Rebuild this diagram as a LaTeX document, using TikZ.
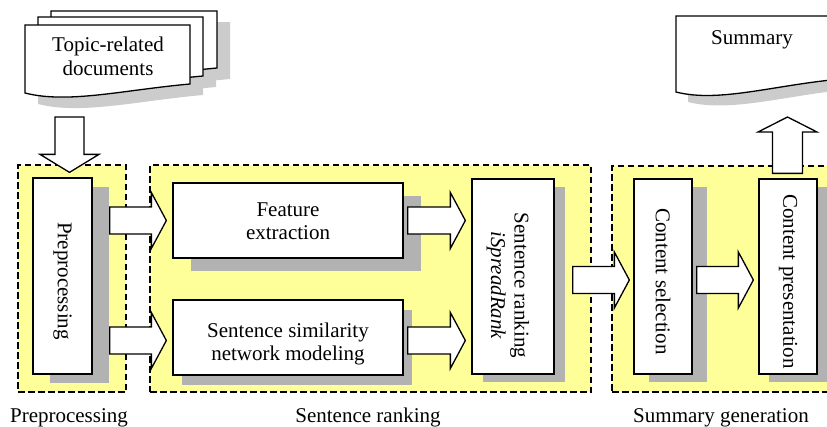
\documentclass[tikz,border=0pt]{standalone}
\usepackage{fontspec}
\setmainfont{Liberation Serif}
\usetikzlibrary{calc,shadows}

\definecolor{groupfill}{HTML}{FFFF99}
\definecolor{shadowgray}{HTML}{B2B2B2}
\definecolor{docgray}{HTML}{CCCCCC}

\tikzset{
  stagegroup/.style={draw=black, line width=2pt, dash pattern=on 6.5pt off 3.5pt,
    fill=groupfill, inner sep=0pt},
  stagebox/.style={draw=black, line width=1.3pt, fill=white, inner sep=0pt},
  boxshadow/.style 2 args={general shadow={fill=shadowgray, draw=none,
    shadow xshift=#1pt, shadow yshift=-#2pt}},
  lbl/.style={font=\fontsize{21}{23.5}\selectfont, align=center, inner sep=0pt},
  vlbl/.style={lbl, rotate=-90},
  blockarrow/.style={draw=black, line width=1.3pt, fill=white, line join=miter},
  % block arrow pointing right, at the height of its start point
  harrow/.style={blockarrow, to path={let \p1=(\tikztostart), \p2=(\tikztotarget) in
    (\x1,\y1+13.5pt) -- (\x2-15pt,\y1+13.5pt) -- (\x2-15pt,\y1+28pt) -- (\x2,\y1)
    -- (\x2-15pt,\y1-28pt) -- (\x2-15pt,\y1-13.5pt) -- (\x1,\y1-13.5pt) -- cycle}},
  % block arrow pointing down
  darrow/.style={blockarrow, to path={let \p1=(\tikztostart), \p2=(\tikztotarget) in
    (\x1-14.5pt,\y1) -- (\x1-14.5pt,\y2+18pt) -- (\x1-29.5pt,\y2+18pt) -- (\x1,\y2)
    -- (\x1+29.5pt,\y2+18pt) -- (\x1+14.5pt,\y2+18pt) -- (\x1+14.5pt,\y1) -- cycle}},
  % block arrow pointing up
  uarrow/.style={blockarrow, to path={let \p1=(\tikztostart), \p2=(\tikztotarget) in
    (\x1-15pt,\y1) -- (\x1-15pt,\y2-15pt) -- (\x1-29.5pt,\y2-15pt) -- (\x1,\y2)
    -- (\x1+29.5pt,\y2-15pt) -- (\x1+15pt,\y2-15pt) -- (\x1+15pt,\y1) -- cycle}},
  docline/.style={draw=black, line width=1.3pt, fill=white},
  docshade/.style={fill=docgray},
}

% document sheet with a wavy lower edge:
% #1,#2 top-left corner, #3 width, #4 left height, #5 right height, #6 style
\newcommand\docsheet[6]{%
  \path[#6] (#1,#2) -- ({#1+#3},#2) -- ({#1+#3},{#2+#5})
    .. controls ({#1+#3-67},{#2+#5+6}) and ({#1+43},{#2+#4+11}) .. (#1,{#2+#4}) -- cycle;}

\begin{document}
\begin{tikzpicture}[x=1pt,y=-1pt]
\useasboundingbox (0,0) rectangle (827,426);
\clip (0,0) rectangle (827,426);

% stage groups
\node[stagegroup, minimum width=108pt, minimum height=227pt] (g1) at (72,278.5) {};
\node[stagegroup, minimum width=441pt, minimum height=227pt] (g2) at (370.5,278.5) {};
\node[stagegroup, minimum width=218pt, minimum height=226pt] (g3) at (721,279) {};

\node[lbl, anchor=base] (g1lbl) at ($(g1.south)+(-3,29)$) {Preprocessing};
\node[lbl, anchor=base] (g2lbl) at ($(g2.south)+(-2.5,29)$) {Sentence ranking};
\node[lbl, anchor=base] (g3lbl) at ($(g3.south)+(0,29)$) {Summary generation};

% processing boxes
\node[stagebox, boxshadow={17}{9}, minimum width=59pt, minimum height=196pt] (pre) at (62.5,276) {};
\node[stagebox, boxshadow={18}{13}, minimum width=230pt, minimum height=75pt] (feat) at (288,220.5) {};
\node[stagebox, boxshadow={9}{10}, minimum width=230pt, minimum height=75pt] (sim) at (288,337.5) {};
\node[stagebox, boxshadow={11}{8}, minimum width=82pt, minimum height=195pt] (rank) at (513,276.5) {};
\node[stagebox, boxshadow={15}{8}, minimum width=58pt, minimum height=195pt] (sel) at (663,276.5) {};
\node[stagebox, boxshadow={10}{8}, minimum width=58pt, minimum height=195pt] (pres) at (788,276.5) {};

\node[vlbl] (preT) at ($(pre)+(0,5)$) {Preprocessing};
\node[lbl] (featT) at (288,221) {Feature\\extraction};
\node[lbl] (simT) at (288,344) {Sentence similarity\\network modeling};
\node[vlbl] (rankT) at ($(rank)+(-5,9)$) {Sentence ranking\\\textit{iSpreadRank}};
\node[vlbl] (selT) at ($(sel)+(0,5)$) {Content selection};
\node[vlbl] (presT) at ($(pres)+(0,5)$) {Content presentation};

% input documents: shadows first, then the stacked sheets
\docsheet{64}{22}{166}{64}{57}{docshade}
\docsheet{51}{28}{165}{66}{59}{docshade}
\docsheet{38}{36}{165}{68}{59}{docshade}
\docsheet{51}{11}{166}{64}{57}{docline}
\docsheet{38}{17}{165}{66}{59}{docline}
\docsheet{25}{25}{165}{68}{59}{docline}
\node[lbl] (docsT) at (108,56.5) {Topic-related\\documents};

% output summary
\docsheet{688}{26}{165}{76}{63}{docshade}
\docsheet{676}{16}{165}{76}{63}{docline}
\node[lbl] (sumT) at (752,40.3) {Summary};

\coordinate (docfoot) at (69.5,117);
\coordinate (sumfoot) at (787.5,117);

% flow arrows
\path[darrow] (docfoot) to ($(docfoot |- pre.north)+(0,-5)$);
\path[harrow] ($(pre.east |- feat)+(17,0)$) to ($(feat.west)+(-6,0)$);
\path[harrow] ($(pre.east |- sim)+(17,3)$) to ($(sim.west)+(-6,3)$);
\path[harrow] ($(feat.east)+(4,0)$) to ($(rank.west |- feat)+(-6,0)$);
\path[harrow] ($(sim.east)+(4,3)$) to ($(rank.west |- sim)+(-6,3)$);
\path[harrow] ($(rank.east)+(18,3.5)$) to ($(sel.west)+(-4,3.5)$);
\path[harrow] ($(sel.east)+(4,3.5)$) to ($(pres.west)+(-5,3.5)$);
\path[uarrow] ($(sumfoot |- pres.north)+(0,-5)$) to (sumfoot);
\end{tikzpicture}
\end{document}
